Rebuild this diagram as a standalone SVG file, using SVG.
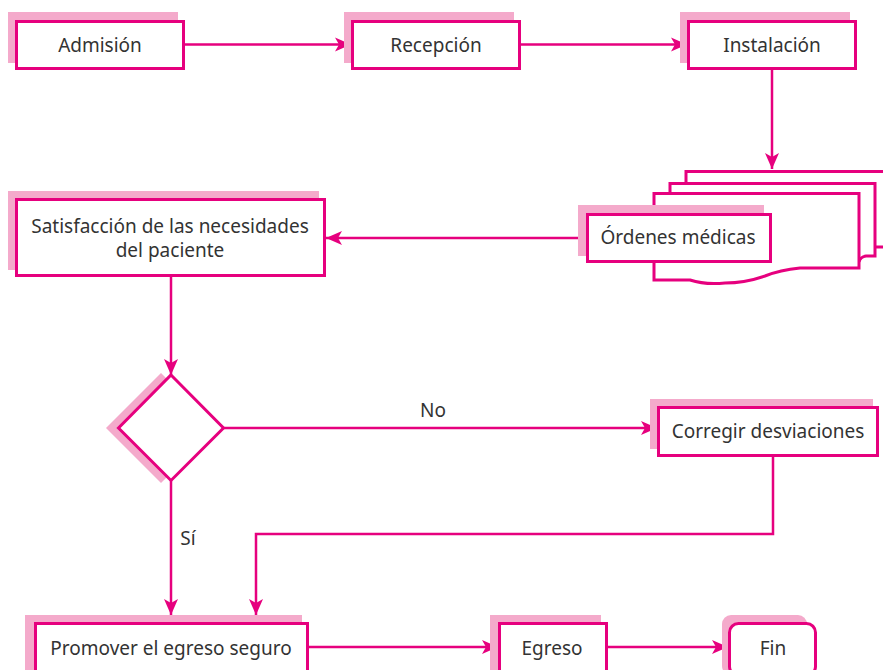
<svg xmlns="http://www.w3.org/2000/svg" width="883" height="670" viewBox="0 0 883 670">
<defs>
<style>
.sh{fill:#F4AACB;stroke:none}
.bx{fill:#fff;stroke:#E6007E;stroke-width:3}
.ln{fill:none;stroke:#E6007E;stroke-width:2.5}
.ar{marker-end:url(#ah)}
.t{font-family:"Noto Sans","Open Sans","DejaVu Sans",sans-serif;font-size:19px;fill:#333;text-anchor:middle}
</style>
<marker id="ah" markerUnits="userSpaceOnUse" markerWidth="18" markerHeight="16" refX="16" refY="7" orient="auto" viewBox="0 0 18 14">
<path d="M0,0 L16,7 L0,14 L4,7 Z" fill="#E6007E"/>
</marker>
</defs>
<rect width="883" height="670" fill="#fff"/>
<g id="connectors">
<line class="ln ar" x1="185" y1="44.5" x2="351" y2="44.5"/>
<line class="ln ar" x1="521" y1="44.5" x2="687" y2="44.5"/>
<line class="ln ar" x1="772" y1="70" x2="772" y2="169"/>
<line class="ln ar" x1="586" y1="238" x2="326" y2="238"/>
<line class="ln ar" x1="171" y1="277" x2="171" y2="375"/>
<line class="ln ar" x1="223" y1="428" x2="657" y2="428"/>
<polyline class="ln ar" points="773,457 773,534 256,534 256,615"/>
<line class="ln ar" x1="171" y1="480" x2="171" y2="615"/>
<line class="ln ar" x1="309" y1="647" x2="498" y2="647"/>
<line class="ln ar" x1="608" y1="647" x2="728" y2="647"/>
<text class="t" x="433" y="417">No</text>
<text class="t" x="188" y="545">Sí</text>
</g>
<g id="admision">
<rect class="sh" x="8" y="12" width="170" height="51"/>
<rect class="bx" x="16.5" y="21.5" width="167" height="47"/>
<text class="t" x="100" y="52">Admisión</text>
</g>
<g id="recepcion">
<rect class="sh" x="344" y="12" width="170" height="51"/>
<rect class="bx" x="352.5" y="21.5" width="167" height="47"/>
<text class="t" x="436" y="52">Recepción</text>
</g>
<g id="instalacion">
<rect class="sh" x="680" y="12" width="170" height="51"/>
<rect class="bx" x="688.5" y="21.5" width="167" height="47"/>
<text class="t" x="772" y="52">Instalación</text>
</g>
<g id="ordenes">
<path class="bx" d="M686,185 L686,171.5 L890,171.5 L890,247 L876,247"/>
<path class="bx" d="M670,195 L670,183.5 L875,183.5 L875,256 L866,256 Q860,257 859,262"/>
<path class="bx" d="M654,193.5 L859,193.5 L859,268 L800,268 Q780,270 765,276 Q745,283 725,283 Q705,285 690,280 L654,280 Z"/>
<rect class="sh" x="578" y="205" width="186" height="51"/>
<rect class="bx" x="587.5" y="214.5" width="183" height="47"/>
<text class="t" x="678" y="244">Órdenes médicas</text>
</g>
<g id="satisfaccion">
<rect class="sh" x="8" y="191" width="311" height="79"/>
<rect class="bx" x="16.5" y="199.5" width="308" height="76"/>
<text class="t" x="170" y="233">Satisfacción de las necesidades</text>
<text class="t" x="170" y="257">del paciente</text>
</g>
<g id="decision">
<polygon class="sh" points="161,373 216,428 161,483 106,428"/>
<polygon class="bx" points="171,375 223.5,428 171,480.5 118.5,428"/>
</g>
<g id="corregir">
<rect class="sh" x="650" y="399" width="223" height="50"/>
<rect class="bx" x="658.5" y="407.5" width="219" height="48"/>
<text class="t" x="768" y="438">Corregir desviaciones</text>
</g>
<g id="promover">
<rect class="sh" x="25" y="615" width="277" height="60"/>
<rect class="bx" x="35.5" y="623.5" width="272" height="52"/>
<text class="t" x="171" y="655">Promover el egreso seguro</text>
</g>
<g id="egreso">
<rect class="sh" x="490" y="615" width="111" height="60"/>
<rect class="bx" x="499.5" y="623.5" width="107" height="52"/>
<text class="t" x="552" y="655">Egreso</text>
</g>
<g id="fin">
<rect class="sh" x="722" y="615" width="85" height="60" rx="9"/>
<rect class="bx" x="729.5" y="623.5" width="86" height="52" rx="9"/>
<text class="t" x="773" y="655">Fin</text>
</g>
</svg>
